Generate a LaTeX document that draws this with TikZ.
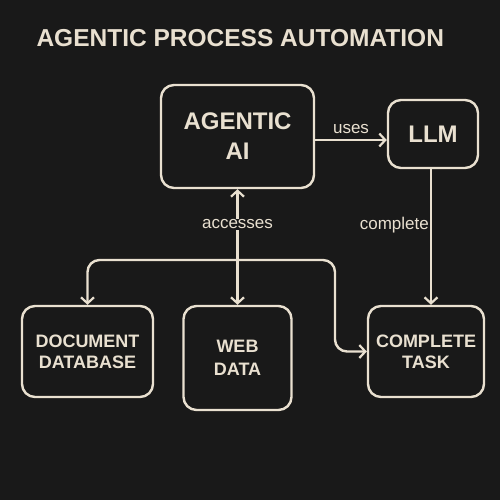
\documentclass[tikz,border=0pt]{standalone}
\usepackage{fontspec}
\setmainfont{Liberation Sans}
\usetikzlibrary{arrows.meta}
\definecolor{bg}{HTML}{191919}
\definecolor{fg}{HTML}{E9E0D0}
\tikzset{
  box/.style={draw=fg, line width=2.4pt, rounded corners=13pt, inner sep=0pt, text=fg, font=\bfseries, align=center},
  link/.style={draw=fg, line width=2.4pt, -{Straight Barb[length=6pt,width=13pt,line width=2.2pt]}},
  lbl/.style={text=fg, font=\fontsize{17}{19}\selectfont, inner sep=1pt}
}
\begin{document}
\begin{tikzpicture}[x=1pt,y=-1pt]
\fill[bg] (0,0) rectangle (500,500);
\useasboundingbox (0,0) rectangle (500,500);
\node[anchor=west, text=fg, font=\fontsize{24.5}{28}\bfseries] (title) at (33,38) {AGENTIC PROCESS AUTOMATION};
\node[box, minimum width=153pt, minimum height=103pt, font=\fontsize{24}{30}\bfseries\selectfont] (ai) at (237.5,136.5) {AGENTIC\\AI};
\node[box, minimum width=90pt, minimum height=68pt, font=\fontsize{24}{28}\bfseries\selectfont] (llm) at (433,134) {LLM};
\node[box, minimum width=131pt, minimum height=91pt, font=\fontsize{18}{21}\bfseries\selectfont] (doc) at (87.5,351.5) {DOCUMENT\\DATABASE};
\node[box, minimum width=108pt, minimum height=104pt, font=\fontsize{18}{23}\bfseries\selectfont] (web) at (237.5,358) {WEB\\DATA};
\node[box, minimum width=116pt, minimum height=91pt, font=\fontsize{18}{21}\bfseries\selectfont] (task) at (426,351.5) {COMPLETE\\TASK};
\coordinate (jn) at (237.5,260);
\coordinate (bend) at (335,0);
\draw[link] (ai.east |- 0,140) -- node[lbl, above=4pt] (uses) {uses} (llm.west |- 0,140);
\draw[link] (llm.south -| 431,0) -- node[lbl, pos=0.41, left=0pt] (compl) {complete} (task.north -| 431,0);
\draw[link, {Straight Barb[length=6pt,width=13pt,line width=2.2pt]}-{Straight Barb[length=6pt,width=13pt,line width=2.2pt]}] (ai.south) -- node[lbl, pos=0.305, fill=bg] (acc) {accesses} (web.north);
\draw[link, rounded corners=12pt] (jn) -| (doc.north);
\draw[link, rounded corners=12pt] (jn) -| (bend |- task.west) -- (task.west);
\end{tikzpicture}
\end{document}
